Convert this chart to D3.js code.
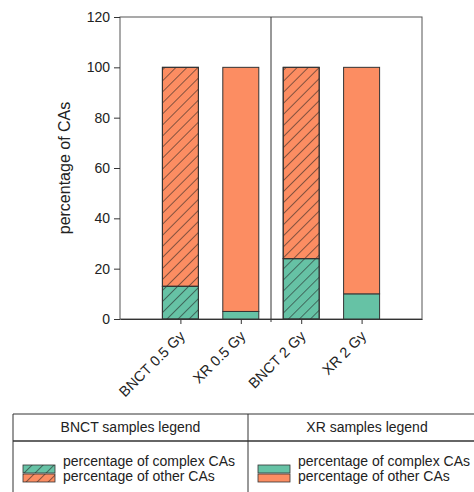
<!DOCTYPE html>
<html>
<head>
<meta charset="utf-8">
<script src="https://cdn.jsdelivr.net/npm/d3@7"></script>
<style>
  body { margin: 0; background: #fff; }
  svg { font-family: "Liberation Sans", Arial, sans-serif; }
</style>
</head>
<body>
<div class="chart"></div>
<script>
const samples = ["BNCT 0.5 Gy", "XR 0.5 Gy", "BNCT 2 Gy", "XR 2 Gy"];
const hatched = [true, false, true, false];
const complexPct = [13, 3, 24, 10];
const otherPct = [87, 97, 76, 90];
const yTicks = [0, 20, 40, 60, 80, 100, 120];
const legendItems = ["percentage of complex CAs", "percentage of other CAs"];
const legendGroups = ["BNCT samples legend", "XR samples legend"];

const width = 474, height = 492;
const plot = {left: 120, right: 422, top: 17, bottom: 319};
const green = "#66c2a5", orange = "#fc8d62";

const svg = d3.select("div.chart").append("svg")
	.attr("width", width)
	.attr("height", height);

// hatch pattern
svg.append("defs").append("pattern")
	.attr("id", "hatch")
	.attr("patternUnits", "userSpaceOnUse")
	.attr("width", 7.8)
	.attr("height", 7.8)
	.attr("patternTransform", "rotate(45)")
	.append("line")
	.attr("x1", 0).attr("y1", 0)
	.attr("x2", 0).attr("y2", 7.8)
	.attr("stroke", "#222")
	.attr("stroke-width", 1.1);

const x = d3.scalePoint()
	.domain(samples)
	.range([plot.left, plot.right])
	.padding(1);

const y = d3.scaleLinear()
	.domain([0, 120])
	.range([plot.bottom, plot.top]);

const barW = 36;

// plot frame
svg.append("rect")
	.attr("x", plot.left)
	.attr("y", plot.top)
	.attr("width", plot.right - plot.left)
	.attr("height", plot.bottom - plot.top)
	.attr("fill", "none")
	.attr("stroke", "#555")
	.attr("stroke-width", 1);

// divider between 0.5 Gy and 2 Gy
const mid = (x(samples[1]) + x(samples[2])) / 2;
svg.append("line")
	.attr("x1", mid).attr("x2", mid)
	.attr("y1", plot.top).attr("y2", plot.bottom + 3)
	.attr("stroke", "#333");

// stacked bars
const stacks = samples.map((s, i) => [
	{s, i, y0: 0, y1: complexPct[i], color: green},
	{s, i, y0: complexPct[i], y1: complexPct[i] + otherPct[i], color: orange}
]).flat();

const bars = svg.append("g").selectAll("g")
	.data(stacks)
	.join("g");

bars.append("rect")
	.attr("x", d => x(d.s) - barW / 2)
	.attr("y", d => y(d.y1))
	.attr("width", barW)
	.attr("height", d => y(d.y0) - y(d.y1))
	.attr("fill", d => d.color)
	.attr("stroke", "#333")
	.attr("stroke-width", 1);

bars.filter(d => hatched[d.i]).append("rect")
	.attr("x", d => x(d.s) - barW / 2)
	.attr("y", d => y(d.y1))
	.attr("width", barW)
	.attr("height", d => y(d.y0) - y(d.y1))
	.attr("fill", "url(#hatch)")
	.attr("stroke", "#333")
	.attr("stroke-width", 1);

// y axis
const yAxis = svg.append("g")
	.attr("transform", `translate(${plot.left},0)`)
	.call(d3.axisLeft(y).tickValues(yTicks).tickSize(6).tickSizeOuter(0).tickPadding(4));
yAxis.selectAll("text").attr("font-size", 14).attr("fill", "#222");
yAxis.selectAll("line, path").attr("stroke", "#333");
yAxis.select(".domain").remove();

// x axis
const xAxis = svg.append("g")
	.attr("transform", `translate(0,${plot.bottom})`)
	.call(d3.axisBottom(x).tickSize(5).tickSizeOuter(0));
xAxis.select(".domain").attr("stroke", "#333");
xAxis.selectAll("line").attr("stroke", "#333");
xAxis.selectAll("text")
	.attr("font-size", 14.5)
	.attr("fill", "#222")
	.attr("text-anchor", "end")
	.attr("dy", null)
	.attr("y", 0)
	.attr("transform", "translate(5,18) rotate(-45)");

svg.append("text")
	.attr("transform", `translate(70,${(plot.top + plot.bottom) / 2}) rotate(-90)`)
	.attr("text-anchor", "middle")
	.attr("font-size", 16)
	.attr("fill", "#222")
	.text("percentage of CAs");

// legend table
const tbl = {left: 13, right: 486, top: 414, head: 441, mid: 248};
const lg = svg.append("g");
lg.append("line")
	.attr("x1", tbl.left).attr("x2", tbl.right)
	.attr("y1", tbl.top).attr("y2", tbl.top)
	.attr("stroke", "#333");
lg.append("line")
	.attr("x1", tbl.left).attr("x2", tbl.right)
	.attr("y1", tbl.head).attr("y2", tbl.head)
	.attr("stroke", "#333").attr("stroke-width", 1.3);
[tbl.left, tbl.mid].forEach(px => {
	lg.append("line")
		.attr("x1", px).attr("x2", px)
		.attr("y1", tbl.top).attr("y2", height)
		.attr("stroke", "#333");
});

const cells = [
	{x0: tbl.left, x1: tbl.mid, hatch: true},
	{x0: tbl.mid, x1: tbl.right, hatch: false}
];
cells.forEach((c, gi) => {
	lg.append("text")
		.attr("x", (c.x0 + c.x1) / 2)
		.attr("y", 432)
		.attr("text-anchor", "middle")
		.attr("font-size", 14)
		.attr("fill", "#222")
		.text(legendGroups[gi]);
	legendItems.forEach((t, k) => {
		const sx = c.x0 + 10, sy = 465 + k * 9;
		lg.append("rect")
			.attr("x", sx).attr("y", sy)
			.attr("width", 32).attr("height", 8)
			.attr("fill", k === 0 ? green : orange)
			.attr("stroke", "#333").attr("stroke-width", 0.8);
		if (c.hatch) {
			lg.append("rect")
				.attr("x", sx).attr("y", sy)
				.attr("width", 32).attr("height", 8)
				.attr("fill", "url(#hatch)");
		}
		lg.append("text")
			.attr("x", sx + 40)
			.attr("y", 466 + k * 15)
			.attr("font-size", 14)
			.attr("fill", "#222")
			.text(t);
	});
});
</script>
</body>
</html>
